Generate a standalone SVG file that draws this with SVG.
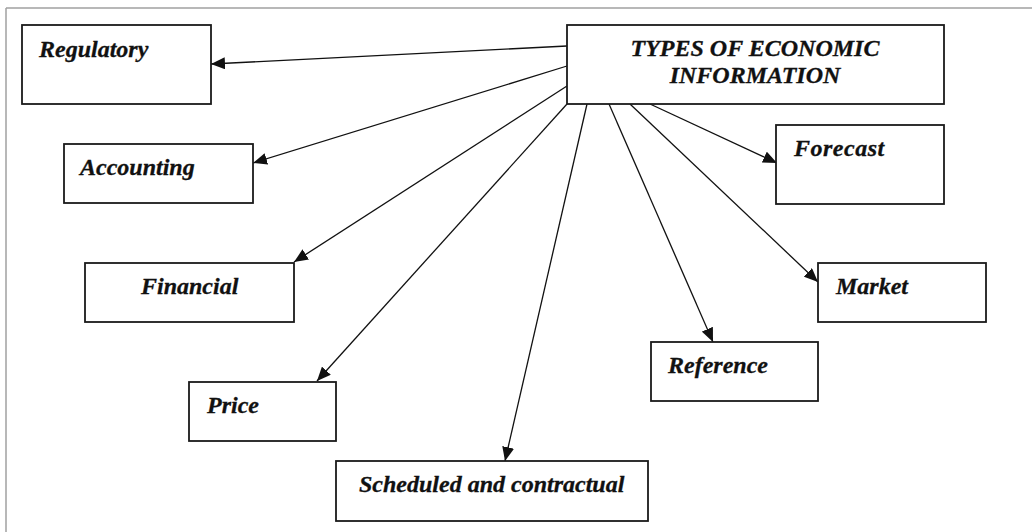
<svg xmlns="http://www.w3.org/2000/svg" width="1032" height="532" viewBox="0 0 1032 532">
<style>
.box{fill:#fff;stroke:#1a1a1a;stroke-width:1.8}
.lbl{font-family:"Liberation Serif","Times New Roman",serif;font-weight:bold;font-style:italic;font-size:24px;fill:#111;stroke:#111;stroke-width:0.3}
.ttl{font-family:"Liberation Serif","Times New Roman",serif;font-weight:bold;font-style:italic;font-size:24px;fill:#111;stroke:#111;stroke-width:0.3;text-anchor:middle}
.con{stroke:#111;stroke-width:1.3;fill:none;marker-end:url(#arr)}
</style>
<defs>
<marker id="arr" markerUnits="userSpaceOnUse" markerWidth="14" markerHeight="12" refX="14" refY="6" orient="auto">
<path d="M0,0 L14,6 L0,12 z" fill="#111"/>
</marker>
</defs>
<rect width="1032" height="532" fill="#fff"/>
<g id="frame" stroke="#a0a0a0" stroke-width="1.5" fill="none">
<line x1="6" y1="8" x2="1032" y2="8"/>
<line x1="6" y1="8" x2="6" y2="532"/>
</g>
<g id="connectors">
<line class="con" x1="567" y1="46" x2="211" y2="64"/>
<line class="con" x1="567" y1="66" x2="253" y2="163"/>
<line class="con" x1="567" y1="86" x2="294" y2="262"/>
<line class="con" x1="567" y1="104" x2="317" y2="381"/>
<line class="con" x1="587" y1="104" x2="505" y2="461"/>
<line class="con" x1="609" y1="104" x2="713" y2="342"/>
<line class="con" x1="630" y1="104" x2="818" y2="282"/>
<line class="con" x1="650" y1="104" x2="777" y2="163"/>
</g>
<g id="main">
<rect class="box" x="567" y="25" width="377" height="79"/>
<text class="ttl" x="755" y="56">TYPES OF ECONOMIC</text>
<text class="ttl" x="755" y="83">INFORMATION</text>
</g>
<g id="regulatory">
<rect class="box" x="22" y="25" width="189" height="79"/>
<text class="lbl" x="39" y="57">Regulatory</text>
</g>
<g id="accounting">
<rect class="box" x="64" y="144" width="189" height="59"/>
<text class="lbl" x="80" y="175">Accounting</text>
</g>
<g id="financial">
<rect class="box" x="85" y="263" width="209" height="59"/>
<text class="lbl" x="141" y="294">Financial</text>
</g>
<g id="price">
<rect class="box" x="189" y="382" width="147" height="59"/>
<text class="lbl" x="207" y="413">Price</text>
</g>
<g id="scheduled">
<rect class="box" x="336" y="461" width="312" height="60"/>
<text class="lbl" x="359" y="492">Scheduled and contractual</text>
</g>
<g id="reference">
<rect class="box" x="651" y="342" width="167" height="59"/>
<text class="lbl" x="668" y="373">Reference</text>
</g>
<g id="market">
<rect class="box" x="818" y="263" width="168" height="59"/>
<text class="lbl" x="836" y="294">Market</text>
</g>
<g id="forecast">
<rect class="box" x="776" y="125" width="168" height="79"/>
<text class="lbl" x="794" y="156" letter-spacing="0.5">Forecast</text>
</g>
</svg>
